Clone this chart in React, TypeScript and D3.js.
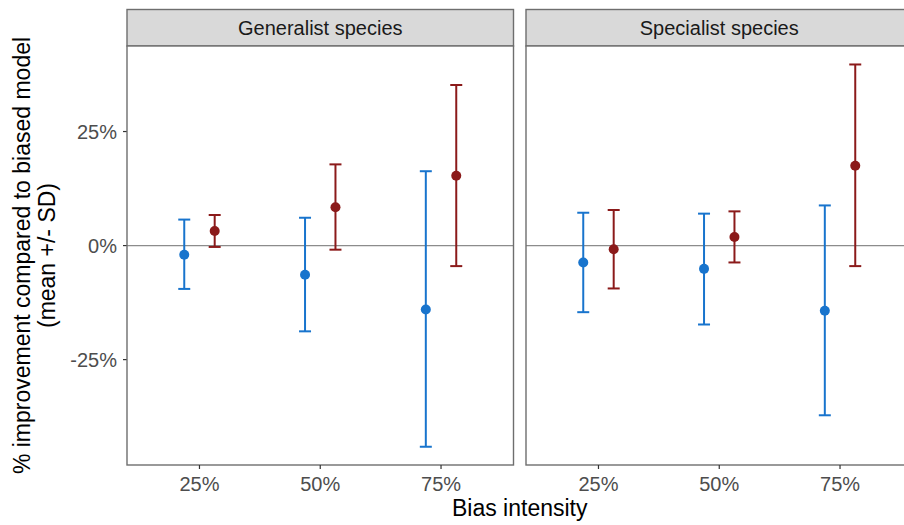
import React from 'react';
import * as d3 from 'd3';

// facets and categories
const facets = ['Generalist species', 'Specialist species'];
const intensities = ['25%', '50%', '75%'];
const yTicks = [-25, 0, 25];

// blue series (mean, lower, upper) in %
const genBlueMean = [-2.0, -6.4, -14.0];
const genBlueLo = [-9.5, -18.8, -44.1];
const genBlueHi = [5.7, 6.1, 16.3];
const specBlueMean = [-3.7, -5.1, -14.3];
const specBlueLo = [-14.6, -17.3, -37.2];
const specBlueHi = [7.2, 7.0, 8.8];

// red series
const genRedMean = [3.2, 8.4, 15.3];
const genRedLo = [-0.3, -0.9, -4.5];
const genRedHi = [6.7, 17.8, 35.2];
const specRedMean = [-0.8, 1.9, 17.5];
const specRedLo = [-9.4, -3.7, -4.5];
const specRedHi = [7.8, 7.5, 39.7];

const BLUE = '#1874CD';
const RED = '#8B1A1A';

const series = [
  { facet: 0, color: BLUE, dodge: -1, mean: genBlueMean, lo: genBlueLo, hi: genBlueHi },
  { facet: 0, color: RED, dodge: 1, mean: genRedMean, lo: genRedLo, hi: genRedHi },
  { facet: 1, color: BLUE, dodge: -1, mean: specBlueMean, lo: specBlueLo, hi: specBlueHi },
  { facet: 1, color: RED, dodge: 1, mean: specRedMean, lo: specRedLo, hi: specRedHi },
];

const W = 904, H = 525;
const panelLeft = [127, 526];
const panelW = 386.5;
const stripTop = 9.5, panelTop = 46, panelBottom = 465;
const border = '#6e6e6e';
const font = '"Liberation Sans", Arial, sans-serif';

export default function App() {
  const y = d3.scaleLinear().domain([-48.1, 43.75]).range([panelBottom, panelTop]);
  const xs = panelLeft.map(l =>
    d3.scalePoint<string>().domain(intensities).range([l, l + panelW]).padding(0.6)
  );

  return (
    <svg width={W} height={H} style={{ position: 'absolute', left: 0, top: 0, fontFamily: font }}>
      <rect x={0} y={0} width={W} height={H} fill="#fff" />

      {/* y axis title */}
      <g transform={`translate(30,${(panelTop + panelBottom) / 2}) rotate(-90)`}>
        <text textAnchor="middle" fontSize={23} fill="#000">% improvement compared to biased model</text>
      </g>
      <g transform={`translate(55,${(panelTop + panelBottom) / 2}) rotate(-90)`}>
        <text textAnchor="middle" fontSize={23} fill="#000">(mean +/- SD)</text>
      </g>

      {/* y ticks */}
      {yTicks.map(t => (
        <g key={t}>
          <line x1={123} x2={panelLeft[0]} y1={y(t)} y2={y(t)} stroke="#333" strokeWidth={1.2} />
          <text x={117} y={y(t) + 7} textAnchor="end" fontSize={20} fill="#4D4D4D">{t}%</text>
        </g>
      ))}

      {facets.map((f, fi) => {
        const x = xs[fi];
        const l = panelLeft[fi];
        const step = x.step();
        return (
          <g key={f}>
            {/* strip */}
            <rect x={l} y={stripTop} width={panelW} height={panelTop - stripTop} fill="#D9D9D9" stroke={border} strokeWidth={1.4} />
            <text x={l + panelW / 2} y={(stripTop + panelTop) / 2 + 7} textAnchor="middle" fontSize={20} fill="#1A1A1A">{f}</text>

            {/* panel */}
            <rect x={l} y={panelTop} width={panelW} height={panelBottom - panelTop} fill="#fff" />
            <line x1={l} x2={l + panelW} y1={y(0)} y2={y(0)} stroke="#8c8c8c" strokeWidth={1.2} />

            {series.filter(s => s.facet === fi).map((s, si) => (
              <g key={si}>
                {intensities.map((c, i) => {
                  const cx = (x(c) as number) + s.dodge * step * 0.126;
                  return (
                    <g key={c}>
                      <line x1={cx} x2={cx} y1={y(s.lo[i])} y2={y(s.hi[i])} stroke={s.color} strokeWidth={2} />
                      <line x1={cx - 6} x2={cx + 6} y1={y(s.lo[i])} y2={y(s.lo[i])} stroke={s.color} strokeWidth={2} />
                      <line x1={cx - 6} x2={cx + 6} y1={y(s.hi[i])} y2={y(s.hi[i])} stroke={s.color} strokeWidth={2} />
                      <circle cx={cx} cy={y(s.mean[i])} r={5} fill={s.color} />
                    </g>
                  );
                })}
              </g>
            ))}

            <rect x={l} y={panelTop} width={panelW} height={panelBottom - panelTop} fill="none" stroke={border} strokeWidth={1.4} />

            {/* x ticks */}
            {intensities.map(c => (
              <g key={c}>
                <line x1={x(c)} x2={x(c)} y1={panelBottom} y2={panelBottom + 4} stroke="#333" strokeWidth={1.2} />
                <text x={x(c)} y={491} textAnchor="middle" fontSize={20} fill="#4D4D4D">{c}</text>
              </g>
            ))}
          </g>
        );
      })}

      {/* x axis title */}
      <text x={(panelLeft[0] + panelLeft[1] + panelW) / 2} y={516} textAnchor="middle" fontSize={23} fill="#000">Bias intensity</text>
    </svg>
  );
}
